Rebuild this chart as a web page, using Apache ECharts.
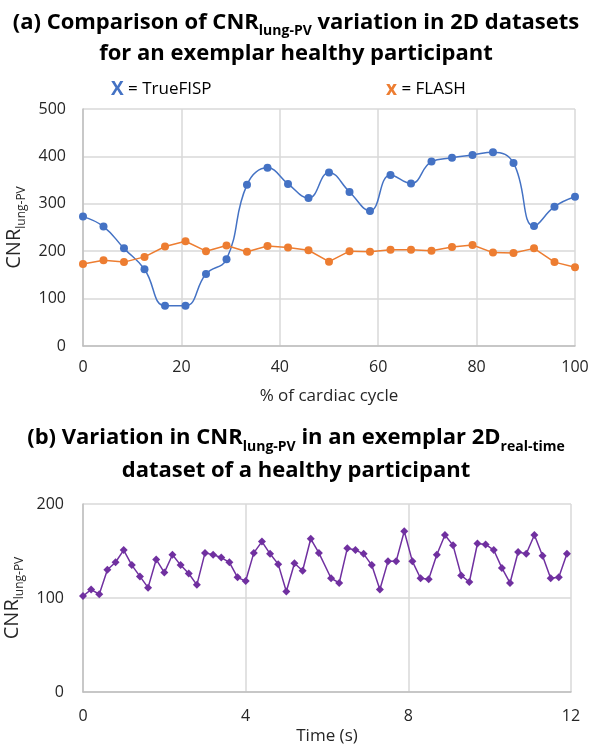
<!DOCTYPE html>
<html>
<head>
<meta charset="utf-8">
<script src="https://cdn.jsdelivr.net/npm/echarts@6/dist/echarts.min.js"></script>
<style>
  html, body { margin: 0; padding: 0; background: #fff; }
  #chart { width: 592px; height: 744px; }
</style>
</head>
<body>
<div id="chart"></div>
<script>
// (a) % of cardiac cycle, 25 frames
const pctCycle = [0, 4.17, 8.33, 12.5, 16.67, 20.83, 25, 29.17, 33.33, 37.5, 41.67, 45.83, 50,
  54.17, 58.33, 62.5, 66.67, 70.83, 75, 79.17, 83.33, 87.5, 91.67, 95.83, 100]
const trueFisp = [273, 252, 206, 162, 85, 85, 152, 183, 340, 376, 342, 312, 366,
  325, 285, 361, 343, 389, 397, 403, 409, 386, 253, 294, 315]
const flash = [173, 181, 177, 188, 210, 221, 200, 212, 199, 211, 208, 202, 178,
  200, 199, 203, 203, 201, 209, 213, 197, 196, 206, 177, 166]

// (b) real-time frames, time in seconds
const timeSec = [0, 0.2, 0.4, 0.6, 0.8, 1.0, 1.2, 1.4, 1.6, 1.8, 2.0, 2.2, 2.4, 2.6, 2.8,
  3.0, 3.2, 3.4, 3.6, 3.8, 4.0, 4.2, 4.4, 4.6, 4.8, 5.0, 5.2, 5.4, 5.6, 5.8,
  6.1, 6.3, 6.5, 6.7, 6.9, 7.1, 7.3, 7.5, 7.7, 7.9, 8.1, 8.3, 8.5, 8.7, 8.9,
  9.1, 9.3, 9.5, 9.7, 9.9, 10.1, 10.3, 10.5, 10.7, 10.9, 11.1, 11.3, 11.5, 11.7, 11.9]
const realTime = [102, 109, 104, 130, 138, 151, 135, 123, 111, 141, 127, 146, 135, 126, 114,
  148, 146, 143, 138, 122, 118, 148, 160, 147, 136, 107, 137, 129, 163, 148,
  121, 116, 153, 151, 147, 135, 109, 139, 139, 171, 139, 121, 120, 146, 167,
  156, 124, 117, 158, 157, 151, 132, 116, 149, 147, 167, 145, 121, 122, 147]

const pairs = (xs, ys) => xs.map((x, i) => [x, ys[i]])

const FONT = 'Open Sans'
const gridColor = '#d9d9d9'
const labelColor = '#262626'

const titleRich = {
  b: { fontFamily: FONT, fontWeight: 'bold', fontSize: 22, color: '#000', lineHeight: 31 },
  s: { fontFamily: FONT, fontWeight: 'bold', fontSize: 14, color: '#000', lineHeight: 15, verticalAlign: 'bottom' }
}
const titleRichB = {
  b: Object.assign({}, titleRich.b, { lineHeight: 33 }),
  s: titleRich.s
}

const nameRich = {
  n: { fontFamily: FONT, fontSize: 20, color: labelColor, lineHeight: 26 },
  s: { fontFamily: FONT, fontSize: 12, color: labelColor, lineHeight: 13, verticalAlign: 'bottom' }
}

function valueAxisX(gridIndex, min, max, interval, name, nameGap, margin) {
  return {
    type: 'value', gridIndex, min, max, interval,
    name, nameLocation: 'middle', nameGap,
    nameTextStyle: { fontFamily: FONT, fontSize: 17, color: labelColor },
    axisLine: { lineStyle: { color: '#bfbfbf', width: 1.5 } },
    axisTick: { show: false },
    axisLabel: { fontFamily: FONT, fontSize: 16, color: labelColor, margin },
    splitLine: { show: true, lineStyle: { color: gridColor, width: 1.5 } }
  }
}

function valueAxisY(gridIndex, min, max, interval, nameGap, margin) {
  return {
    type: 'value', gridIndex, min, max, interval,
    name: '{n|CNR}{s|lung-PV}', nameLocation: 'middle', nameGap, nameRotate: 90,
    nameTextStyle: { rich: nameRich },
    axisLine: { show: true, lineStyle: { color: '#bfbfbf', width: 1.5 } },
    axisTick: { show: false },
    axisLabel: { fontFamily: FONT, fontSize: 16, color: labelColor, margin },
    splitLine: { show: true, lineStyle: { color: gridColor, width: 1.5 } }
  }
}

const chart = echarts.init(document.getElementById('chart'))

chart.setOption({
  backgroundColor: '#fff',
  animation: false,
  title: [
    {
      text: '{b|(a) Comparison of CNR}{s|lung-PV}{b| variation in 2D datasets}\n{b|for an exemplar healthy participant}',
      left: 'center', top: 7, padding: 0,
      textStyle: { rich: titleRich }
    },
    {
      text: '{x|X}{t| = TrueFISP}',
      left: 111, top: 80, padding: 0,
      textStyle: {
        fontWeight: 'normal',
        rich: {
          x: { fontFamily: FONT, fontWeight: 'bold', fontSize: 19, color: '#4472c4' },
          t: { fontFamily: FONT, fontWeight: 'normal', fontSize: 17, color: '#000' }
        }
      }
    },
    {
      text: '{x|x}{t| = FLASH}',
      left: 386, top: 80, padding: 0,
      textStyle: {
        fontWeight: 'normal',
        rich: {
          x: { fontFamily: FONT, fontWeight: 'bold', fontSize: 19, color: '#ed7d31' },
          t: { fontFamily: FONT, fontWeight: 'normal', fontSize: 17, color: '#000' }
        }
      }
    },
    {
      text: '{b|(b) Variation in CNR}{s|lung-PV}{b| in an exemplar 2D}{s|real-time}\n{b|dataset of a healthy participant}',
      left: 'center', top: 421, padding: 0,
      textStyle: { rich: titleRichB }
    }
  ],
  grid: [
    { left: 83, right: 17, top: 109, height: 237, outerBoundsMode: 'none' },
    { left: 83, right: 21, top: 504, height: 188, outerBoundsMode: 'none' }
  ],
  xAxis: [
    valueAxisX(0, 0, 100, 20, '% of cardiac cycle', 42, 13),
    valueAxisX(1, 0, 12, 4, 'Time (s)', 36, 16)
  ],
  yAxis: [
    valueAxisY(0, 0, 500, 100, 46, 17),
    valueAxisY(1, 0, 200, 100, 46, 19)
  ],
  series: [
    {
      name: 'TrueFISP', type: 'line', xAxisIndex: 0, yAxisIndex: 0,
      data: pairs(pctCycle, trueFisp),
      smooth: 0.45,
      symbol: 'circle', symbolSize: 8,
      itemStyle: { color: '#4472c4' },
      lineStyle: { color: '#4472c4', width: 1.5 }
    },
    {
      name: 'FLASH', type: 'line', xAxisIndex: 0, yAxisIndex: 0,
      data: pairs(pctCycle, flash),
      symbol: 'circle', symbolSize: 8,
      itemStyle: { color: '#ed7d31' },
      lineStyle: { color: '#ed7d31', width: 1.5 }
    },
    {
      name: 'Real-time', type: 'line', xAxisIndex: 1, yAxisIndex: 1,
      data: pairs(timeSec, realTime),
      symbol: 'diamond', symbolSize: 8,
      itemStyle: { color: '#7030a0' },
      lineStyle: { color: '#7030a0', width: 1.5 }
    }
  ]
})

window.addEventListener('resize', () => chart.resize())
</script>
</body>
</html>
